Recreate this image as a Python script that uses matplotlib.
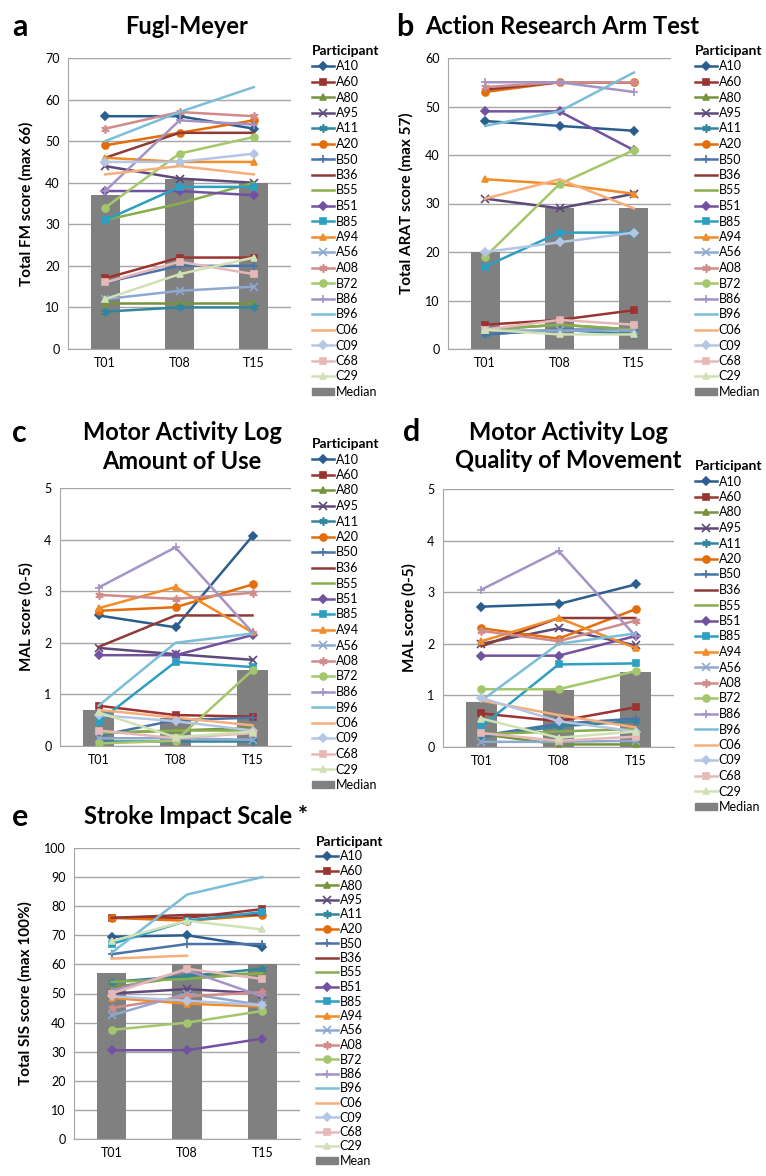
import numpy as np
import matplotlib
matplotlib.use("Agg")
import matplotlib.pyplot as plt
from matplotlib.lines import Line2D
from matplotlib.patches import Patch

plt.rcParams['font.family'] = ['Lato', 'DejaVu Sans']

# datos
times = ["T01", "T08", "T15"]
participants = ["A10", "A60", "A80", "A95", "A11", "A20", "B50", "B36", "B55", "B51", "B85",
                "A94", "A56", "A08", "B72", "B86", "B96", "C06", "C09", "C68", "C29"]

colors = ["#2C5D8F", "#9B3431", "#77933C", "#5F497A", "#31859C", "#E46C0A", "#4A74A8",
          "#8E3B38", "#86AE4C", "#7251A0", "#2E9FC0", "#F28C28", "#8EA9D0", "#D08C8A",
          "#A5C76B", "#A493C4", "#7CBDD8", "#F6AE7A", "#B4C6E4", "#E6B9B8", "#D0E2B5"]
markers = ["D", "s", "^", "x", (6, 2, 0), "o", "+", None, None, "D", "s",
           "^", "x", (6, 2, 0), "o", "+", None, None, "D", "s", "^"]

fm_scores = [[56, 56, 53], [17, 22, 22], [11, 11, 11], [44, 41, 40], [9, 10, 10], [49, 52, 55],
             [16, 20, 20], [46, 52, 52], [31, 35, 40], [38, 38, 37], [31, 39, 39],
             [46, 45, 45], [12, 14, 15], [53, 57, 56], [34, 47, 51], [38, 55, 54],
             [50, 57, 63], [42, 44, 42], [45, 45, 47], [16, 21, 18], [12, 18, 22]]
fm_median = [37, 41, 40]

arat_scores = [[47, 46, 45], [5, 6, 8], [4, 5, 4], [31, 29, 32], [3, 4, 3], [53, 55, 55],
               [3, 4, 4], [53.5, 55, 55], [4, 5, 4], [49, 49, 41], [17, 24, 24],
               [35, 34, 32], [4, 4, 4], [54, 55, 55], [19, 34, 41], [55, 55, 53],
               [46, 49, 57], [31, 35, 29], [20, 22, 24], [4, 6, 5], [4, 3, 3]]
arat_median = [20, 29, 29]

mal_aou = [[2.53, 2.30, 4.07], [0.78, 0.60, 0.57], [0.25, 0.30, 0.35], [1.90, 1.78, 1.67],
           [0.10, 0.10, 0.10], [2.62, 2.69, 3.13], [0.20, 0.50, 0.55], [1.92, 2.53, 2.53],
           [0.25, 0.30, 0.30], [1.76, 1.76, 2.15], [0.47, 1.63, 1.53], [2.67, 3.08, 2.20],
           [0.15, 0.15, 0.12], [2.93, 2.85, 2.97], [0.05, 0.10, 1.47], [3.07, 3.85, 2.20],
           [0.78, 2.00, 2.18], [0.70, 0.55, 0.40], [0.60, 0.48, 0.30], [0.30, 0.15, 0.25],
           [0.65, 0.17, 0.28]]
mal_aou_median = [0.70, 0.54, 1.47]

mal_qom = [[2.72, 2.77, 3.15], [0.65, 0.50, 0.77], [0.25, 0.05, 0.05], [2.00, 2.30, 1.97],
           [0.20, 0.40, 0.50], [2.30, 2.10, 2.67], [0.22, 0.45, 0.55], [1.95, 2.50, 2.50],
           [0.25, 0.30, 0.35], [1.77, 1.77, 2.15], [0.40, 1.60, 1.62], [2.05, 2.50, 1.92],
           [0.10, 0.10, 0.12], [2.25, 2.05, 2.45], [1.12, 1.12, 1.47], [3.05, 3.80, 2.15],
           [0.90, 2.00, 2.20], [0.90, 0.62, 0.38], [0.95, 0.50, 0.30], [0.27, 0.12, 0.20],
           [0.55, 0.18, 0.30]]
mal_qom_median = [0.87, 1.10, 1.46]

sis_scores = [[69.5, 70, 66], [76, 76, 79], [52, 56, 57], [50, 51.5, 50], [54, 56, 58.5],
              [76, 75, 77], [63.5, 67, 67], [76, 77, 77], [54, 55, 57], [30.5, 30.5, 34.5],
              [67, 75, 78], [48.5, 46.5, 45.5], [42.5, 50, 46], [45, 49, 50.5],
              [37.5, 40, 44], [51, 58, 49], [64, 84, 90], [62, 63, np.nan],
              [49, 47.5, 46], [50, 58.5, 55], [68, 75, 72]]
sis_mean = [57, 60, 60]

W, H = 766, 1176
fig = plt.figure(figsize=(W / 100, H / 100), dpi=100)


def tam(m):
    # tamaño de marcador parecido al de Excel
    if m == "D":
        return 4
    if m in ("x", "+") or isinstance(m, tuple):
        return 6
    return 5


def ejes(left, right, top, bottom):
    return fig.add_axes([left / W, 1 - bottom / H, (right - left) / W, (bottom - top) / H])


def panel(ax, scores, bars, ymax, step, ylabel, bar_label, leg_x, leg_top, spacing=0.28):
    x = np.arange(len(times))
    ax.bar(x, bars, width=0.39, color="#808080", zorder=1)
    for vals, c, m in zip(scores, colors, markers):
        ax.plot(x, vals, color=c, lw=1.8, marker=m, markersize=tam(m), mew=1.2, zorder=3)
    ax.set_xlim(-0.5, 2.5)
    ax.set_ylim(0, ymax)
    ax.set_yticks(np.arange(0, ymax + step / 2, step))
    ax.set_xticks(x)
    ax.set_xticklabels(times)
    ax.yaxis.grid(True, color="#A6A6A6", lw=1)
    ax.set_axisbelow(True)
    for s in ["top", "right"]:
        ax.spines[s].set_visible(False)
    for s in ["left", "bottom"]:
        ax.spines[s].set_color("#A6A6A6")
    ax.tick_params(length=0, labelsize=9, pad=6)
    ax.set_ylabel(ylabel, fontsize=11, fontweight="bold", labelpad=8)

    handles = [Line2D([], [], color=c, lw=1.8, marker=m, markersize=tam(m), mew=1.2)
               for c, m in zip(colors, markers)]
    handles.append(Patch(color="#808080"))
    labels = participants + [bar_label]
    ax.legend(handles, labels, loc="upper left", bbox_to_anchor=(leg_x / W, 1 - leg_top / H),
              bbox_transform=fig.transFigure, frameon=False, title="Participant",
              title_fontproperties={"weight": "bold", "size": 10}, alignment="left",
              fontsize=9, handlelength=1.75, handleheight=0.55, handletextpad=0.15,
              labelspacing=spacing, borderpad=0, borderaxespad=0)


def titulo(letter, lx, y, lines, cx, ha="center"):
    fig.text(lx / W, 1 - y / H, letter, fontsize=22, fontweight="bold", va="center", ha="left")
    for i, t in enumerate(lines):
        fig.text(cx / W, 1 - (y + i * 29) / H, t, fontsize=17, fontweight="bold",
                 va="center", ha=ha)


ax_a = ejes(68, 291, 58, 349)
panel(ax_a, fm_scores, fm_median, 70, 10, "Total FM score (max 66)", "Median", 312, 45)
titulo("a", 12, 27, ["Fugl-Meyer"], 187)

ax_b = ejes(448, 671, 58, 349)
panel(ax_b, arat_scores, arat_median, 60, 10, "Total ARAT score (max 57)", "Median", 695, 45)
titulo("b", 396, 27, ["Action Research Arm Test"], 425, ha="left")

ax_c = ejes(60, 291, 488, 746)
panel(ax_c, mal_aou, mal_aou_median, 5, 1, "MAL score (0-5)", "Median", 312, 438)
titulo("c", 12, 433, ["Motor Activity Log", "Amount of Use"], 182)

ax_d = ejes(443, 674, 489, 747)
panel(ax_d, mal_qom, mal_qom_median, 5, 1, "MAL score (0-5)", "Median", 695, 460)
titulo("d", 403, 432, ["Motor Activity Log", "Quality of Movement"], 568)

ax_e = ejes(74, 300, 848, 1139)
panel(ax_e, sis_scores, sis_mean, 100, 10, "Total SIS score (max 100%)", "Mean", 316, 836,
      spacing=0.2)
titulo("e", 12, 817, ["Stroke Impact Scale *"], 196)

fig.savefig("out.png", dpi=100)
